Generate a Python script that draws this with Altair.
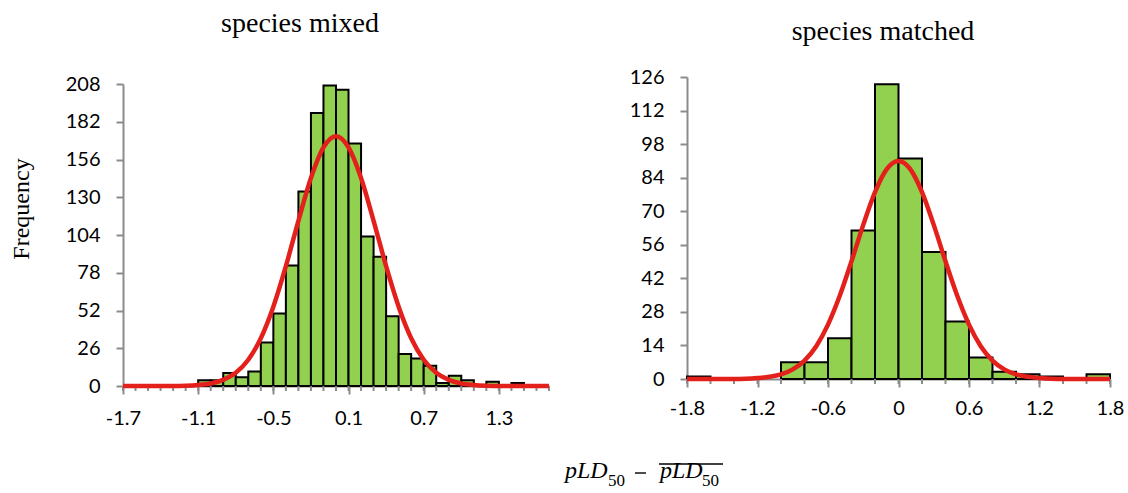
import altair as alt
import pandas as pd

GREEN = "#92D050"
RED = "#E3201C"
GRAY = "#8C8C8C"
LABEL_FONT = "Lato"
SERIF = "Liberation Serif"

# ---- species mixed: histogram (bin width 0.1) and fitted curve ----
mixed_bin_start = [-1.7, -1.6, -1.5, -1.4, -1.3, -1.2, -1.1, -1.0, -0.9, -0.8,
                   -0.7, -0.6, -0.5, -0.4, -0.3, -0.2, -0.1, 0.0, 0.1, 0.2,
                   0.3, 0.4, 0.5, 0.6, 0.7, 0.8, 0.9, 1.0, 1.1, 1.2,
                   1.3, 1.4, 1.5, 1.6]
mixed_counts = [0, 0, 0, 0, 0, 0, 4, 4, 9, 6,
                10, 30, 50, 83, 134, 188, 207, 204, 167, 103,
                89, 48, 22, 19, 14, 2, 7, 4, 0, 3,
                0, 2, 0, 0]
mixed_fit_x = [-1.7, -1.6, -1.5, -1.4, -1.3, -1.2, -1.1, -1.0, -0.9, -0.8,
               -0.7, -0.6, -0.5, -0.4, -0.3, -0.2, -0.1, 0.0, 0.1, 0.2,
               0.3, 0.4, 0.5, 0.6, 0.7, 0.8, 0.9, 1.0, 1.1, 1.2,
               1.3, 1.4, 1.5, 1.6, 1.7]
mixed_fit_y = [0.0, 0.0, 0.0, 0.0, 0.0, 0.2, 0.7, 1.7, 4.2, 9.1,
               18.1, 32.9, 54.6, 82.5, 113.8, 143.2, 164.3, 172.0, 164.3, 143.2,
               113.8, 82.5, 54.6, 32.9, 18.1, 9.1, 4.2, 1.7, 0.7, 0.2,
               0.0, 0.0, 0.0, 0.0, 0.0]
mixed_x_labels = [-1.7, -1.1, -0.5, 0.1, 0.7, 1.3]
mixed_x_minor = [-1.7, -1.6, -1.5, -1.4, -1.3, -1.2, -1.1, -1.0, -0.9, -0.8,
                 -0.7, -0.6, -0.5, -0.4, -0.3, -0.2, -0.1, 0.0, 0.1, 0.2,
                 0.3, 0.4, 0.5, 0.6, 0.7, 0.8, 0.9, 1.0, 1.1, 1.2,
                 1.3, 1.4, 1.5, 1.6, 1.7]
mixed_y_labels = [0, 26, 52, 78, 104, 130, 156, 182, 208]

# ---- species matched: histogram (bin width 0.2) and fitted curve ----
matched_bin_start = [-1.8, -1.6, -1.4, -1.2, -1.0, -0.8, -0.6, -0.4, -0.2,
                     0.0, 0.2, 0.4, 0.6, 0.8, 1.0, 1.2, 1.4, 1.6]
matched_counts = [1, 0, 0, 0, 7, 7, 17, 62, 123,
                  92, 53, 24, 9, 3, 2, 1, 0, 2]
matched_fit_x = [-1.8, -1.7, -1.6, -1.5, -1.4, -1.3, -1.2, -1.1, -1.0, -0.9,
                 -0.8, -0.7, -0.6, -0.5, -0.4, -0.3, -0.2, -0.1, 0.0, 0.1,
                 0.2, 0.3, 0.4, 0.5, 0.6, 0.7, 0.8, 0.9, 1.0, 1.1,
                 1.2, 1.3, 1.4, 1.5, 1.6, 1.7, 1.8]
matched_fit_y = [0.0, 0.0, 0.0, 0.0, 0.0, 0.1, 0.4, 0.9, 1.9, 4.0,
                 7.7, 13.7, 22.7, 34.7, 49.1, 64.3, 78.0, 87.6, 91.0, 87.6,
                 78.0, 64.3, 49.1, 34.7, 22.7, 13.7, 7.7, 4.0, 1.9, 0.9,
                 0.4, 0.1, 0.0, 0.0, 0.0, 0.0, 0.0]
matched_x_labels = [-1.8, -1.2, -0.6, 0.0, 0.6, 1.2, 1.8]
matched_x_minor = [-1.8, -1.6, -1.4, -1.2, -1.0, -0.8, -0.6, -0.4, -0.2, 0.0,
                   0.2, 0.4, 0.6, 0.8, 1.0, 1.2, 1.4, 1.6, 1.8]
matched_y_labels = [0, 14, 28, 42, 56, 70, 84, 98, 112, 126]

one_row = pd.DataFrame({"k": [0]})
LABEL_EXPR = "replace(format(datum.value, '.1~f'), '\u2212', '-')"


def panel(starts, bin_width, counts, fit_x, fit_y, x_labels, x_minor, y_labels,
          width, height, y_top, x_label_pad, title, title_x, title_y):
    bars = pd.DataFrame({"start": starts, "count": counts})
    bars["end"] = (bars["start"] + bin_width).round(2)
    bars["zero"] = 0
    fit = pd.DataFrame({"x": fit_x, "y": fit_y})
    minor = pd.DataFrame({"v": x_minor})

    x_scale = alt.Scale(domain=[x_minor[0], x_minor[-1]], nice=False, zero=False)
    y_scale = alt.Scale(domain=[0, y_labels[-1]], nice=False, range=[height, y_top])

    x_axis = alt.Axis(
        values=x_labels, title="", grid=False, labelExpr=LABEL_EXPR,
        labelFont=LABEL_FONT, labelFontSize=20, labelColor="black",
        labelFlush=False, labelOverlap=False, labelBaseline="alphabetic",
        labelPadding=x_label_pad, tickSize=8, tickWidth=2, tickColor=GRAY,
        domainColor=GRAY, domainWidth=2,
    )
    y_axis = alt.Axis(
        values=y_labels, title="", grid=False,
        labelFont=LABEL_FONT, labelFontSize=20, labelColor="black",
        labelPadding=16, tickSize=7, tickWidth=2, tickColor=GRAY,
        domainColor=GRAY, domainWidth=2,
    )

    bar_layer = alt.Chart(bars).transform_filter("datum.count > 0").mark_rect(
        fill=GREEN, stroke="black", strokeWidth=2
    ).encode(
        x=alt.X("start:Q", scale=x_scale, axis=x_axis),
        x2="end:Q",
        y=alt.Y("count:Q", scale=y_scale, axis=y_axis),
        y2="zero:Q",
    )

    curve = alt.Chart(fit).mark_line(
        color=RED, strokeWidth=4.5, interpolate="monotone"
    ).encode(
        x=alt.X("x:Q", scale=x_scale, axis=x_axis),
        y=alt.Y("y:Q", scale=y_scale, axis=y_axis),
    )

    minor_ticks = alt.Chart(minor).mark_rule(color=GRAY, strokeWidth=2).encode(
        x=alt.X("v:Q", scale=x_scale, axis=x_axis),
        y=alt.value(height),
        y2=alt.value(height + 5),
    )

    title_text = alt.Chart(one_row).mark_text(
        text=title, font=SERIF, fontSize=28, color="black",
        align="center", baseline="alphabetic",
    ).encode(x=alt.value(title_x), y=alt.value(title_y))

    return [bar_layer, minor_ticks, curve, title_text]


left_layers = panel(mixed_bin_start, 0.1, mixed_counts, mixed_fit_x, mixed_fit_y,
                    mixed_x_labels, mixed_x_minor, mixed_y_labels,
                    426, 309, 7, 30, "species mixed", 177, -45)
right_layers = panel(matched_bin_start, 0.2, matched_counts, matched_fit_x, matched_fit_y,
                     matched_x_labels, matched_x_minor, matched_y_labels,
                     423, 302, 0, 27, "species matched", 196, -37)

# canvas frame (transparent) so the layout fills the page exactly
frame = alt.Chart(one_row).mark_rect(opacity=0).encode(
    x=alt.value(-123), x2=alt.value(1005), y=alt.value(-77), y2=alt.value(416)
)

freq = alt.Chart(one_row).mark_text(
    text="Frequency", font=SERIF, fontSize=24, color="black",
    angle=270, align="center", baseline="middle",
).encode(x=alt.value(-101), y=alt.value(132))


def formula_piece(text, x, y, size, italic=True):
    kw = dict(text=text, font=SERIF, fontSize=size, color="black",
              align="left", baseline="alphabetic")
    if italic:
        kw["fontStyle"] = "italic"
    return alt.Chart(one_row).mark_text(**kw).encode(x=alt.value(x), y=alt.value(y))


formula = [
    formula_piece("pLD", 442, 401, 24),
    formula_piece("50", 485, 409, 17, italic=False),
    alt.Chart(one_row).mark_rule(color="black", strokeWidth=1.4).encode(
        x=alt.value(512), x2=alt.value(523), y=alt.value(396)
    ),
    formula_piece("pLD", 537, 401, 24),
    formula_piece("50", 579, 409, 17, italic=False),
    alt.Chart(one_row).mark_rule(color="black", strokeWidth=1.4).encode(
        x=alt.value(536), x2=alt.value(600), y=alt.value(387)
    ),
]

left = alt.layer(*left_layers, frame, freq, *formula).properties(width=426, height=309)
right = alt.layer(*right_layers).properties(width=423, height=302)

chart = alt.hconcat(left, right, spacing=138, bounds="flush").properties(
    padding=0, background="white"
).configure_view(strokeWidth=0)

chart.save("out.html", embed_options={"renderer": "svg", "actions": False})
